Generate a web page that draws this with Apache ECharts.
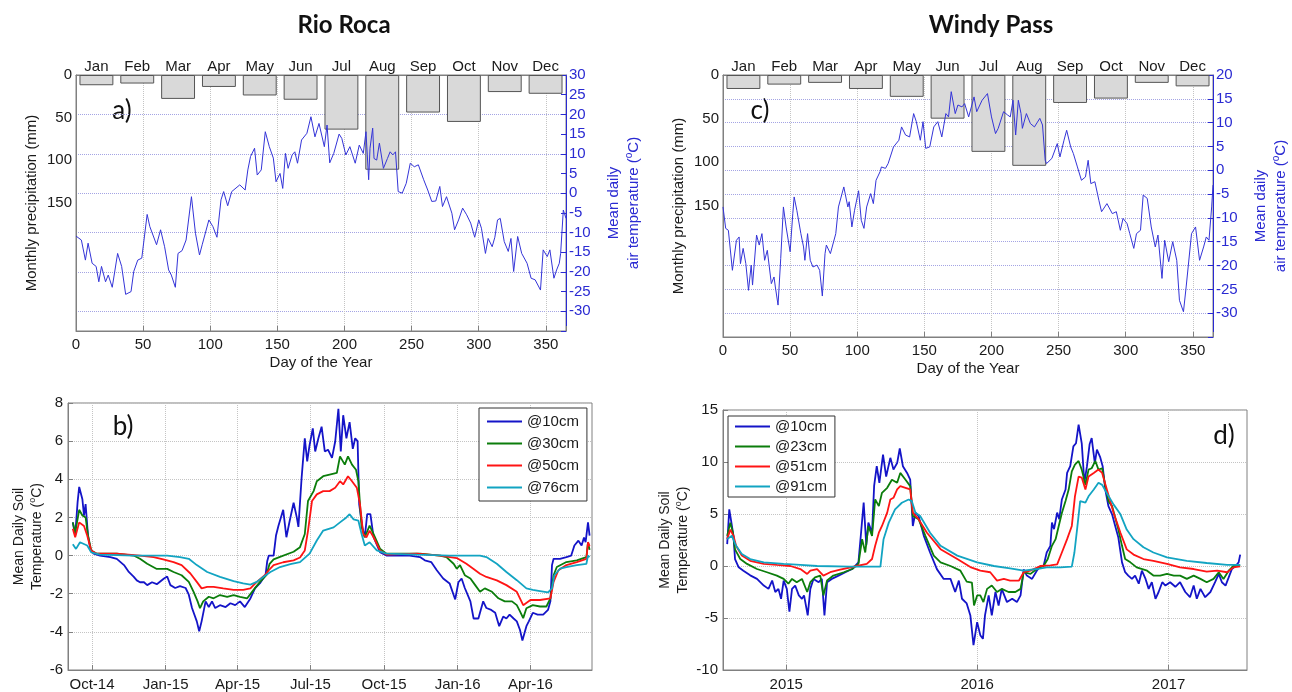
<!DOCTYPE html>
<html>
<head>
<meta charset="utf-8">
<script src="https://cdn.jsdelivr.net/npm/echarts@6/dist/echarts.min.js"></script>
<style>
  html, body { margin: 0; padding: 0; background: #fff; }
  #main { width: 1292px; height: 692px; }
</style>
</head>
<body>
<div id="main"></div>
<script>
// monthly precipitation (mm)
var months = ['Jan','Feb','Mar','Apr','May','Jun','Jul','Aug','Sep','Oct','Nov','Dec'];
var rrPrecip = [12, 10, 28, 14, 24, 29, 64, 111, 44, 55, 20, 22];
var wpPrecip = [16, 11, 9, 16, 25, 50, 88, 104, 32, 27, 9, 13];

// mean daily air temperature [day of year, degC]
var rrAirT = [[0,-10.9],[4,-11.9],[7,-17],[9,-12.7],[12,-17.8],[15,-18.6],[17,-22.5],[19,-18.6],[22,-22.5],[24,-20.8],[27,-23.9],[31,-15.3],[34,-18.6],[37,-25.7],[41,-25],[43,-19.9],[46,-17],[49,-16.5],[53,-5.4],[55,-8.5],[60,-13.1],[63,-9.3],[66,-13.6],[69,-19.5],[71,-20.8],[74,-23.9],[76,-15.3],[79,-14.6],[82,-11.9],[86,-0.9],[89,-10.2],[92,-15.7],[94,-13.1],[99,-6.8],[102,-8.5],[105,-11.2],[108,-1.7],[110,0.4],[113,-3.2],[116,0.4],[122,2.1],[126,0.8],[128,5.9],[130,9.3],[133,11.4],[135,4.6],[138,5.9],[141,15.6],[144,11.8],[147,8.9],[149,2.9],[152,5],[154,1.2],[156,10.1],[158,6.3],[161,9.7],[163,10.5],[165,7.6],[168,13.5],[172,15.2],[175,19.4],[178,14.3],[181,17.7],[185,11.8],[187,17.3],[189,7.7],[192,10.1],[196,15],[198,13.9],[201,9.7],[204,11.8],[208,7.6],[211,12.2],[214,10.1],[216,15.6],[218,3.4],[219,11.4],[221,16.5],[222,8.8],[224,8.4],[226,12.7],[229,6.3],[232,8.8],[234,10.5],[236,9.7],[238,10.5],[240,0.4],[243,0],[246,2.5],[249,7.6],[252,6.7],[255,7.2],[259,3.4],[262,0.8],[265,-2.1],[268,-2],[271,1.7],[273,-3.4],[276,-0.9],[280,-5.1],[282,-9.3],[285,-6.8],[288,-3.8],[291,-5.5],[294,-7.6],[297,-11.2],[300,-6.8],[302,-8.9],[305,-15.3],[307,-11.5],[310,-13.6],[312,-11.2],[314,-6.8],[316,-6.4],[319,-12.3],[322,-14.8],[324,-11.5],[326,-19.9],[329,-11],[332,-15.3],[336,-17.8],[339,-21.6],[342,-22],[346,-24.6],[348,-14.4],[351,-16.1],[353,-14.4],[356,-21.6],[358,-19.5],[360,-17.8],[361,-15.3],[363,-4.3],[365,-6.4]];
var wpAirT = [[0,-7.7],[2,-12.2],[4,-12.6],[7,-21],[10,-14.7],[12,-14],[13,-19.6],[15,-16.4],[17,-19.6],[19,-25.2],[21,-19.9],[22,-24.1],[25,-13.6],[27,-15.7],[29,-13.3],[31,-18.9],[33,-16.8],[36,-23.8],[38,-22.4],[39,-24.5],[41,-28.3],[43,-18.5],[45,-7.7],[47,-11.9],[50,-17.1],[52,-9.1],[53,-5.6],[55,-8.4],[58,-13.3],[60,-16.1],[61,-18.9],[63,-13.3],[65,-18.9],[67,-20.3],[70,-19.9],[72,-21],[74,-26.4],[76,-17.5],[77,-15.7],[80,-17.5],[84,-13.3],[86,-7.7],[90,-3.5],[91,-3.1],[93,-7.7],[94,-6.6],[96,-11.9],[98,-8.4],[101,-4.3],[103,-10.5],[105,-12.2],[107,-7.7],[110,-4.9],[112,-7],[114,-2.1],[117,-0.3],[118,0.7],[121,0.4],[123,1.4],[127,4.9],[131,6.3],[133,9.1],[136,7.4],[139,7],[142,11.9],[144,10.2],[147,6.3],[149,10.2],[151,4.6],[154,4.9],[157,9.1],[160,10.2],[163,7],[166,11.9],[168,11.2],[170,16.5],[173,11.9],[175,13.7],[178,13.3],[180,14],[183,11.2],[187,15.4],[189,12.3],[193,14.7],[197,16.1],[200,11.2],[203,7.7],[205,8.8],[209,12.3],[212,11.6],[214,11.2],[216,14.7],[218,7.4],[220,14.7],[222,11.9],[223,8.8],[226,11.9],[229,9.8],[232,9.1],[236,10.9],[238,9.5],[240,2.1],[241,1.4],[245,2.5],[249,5.6],[251,2.8],[254,6.3],[256,8.4],[259,4.9],[261,3.5],[264,0.7],[267,-2.1],[270,-1.4],[272,2.1],[274,-2.8],[277,-2.4],[280,-6.3],[282,-8.7],[286,-7],[290,-9.1],[293,-8.7],[296,-12.6],[298,-10.1],[301,-11.2],[303,-13.3],[306,-16.4],[308,-13.3],[311,-12.6],[313,-5.2],[316,-5.9],[319,-11.9],[322,-16.1],[324,-13.6],[327,-22.7],[329,-14.7],[332,-19.2],[335,-15],[338,-18.9],[340,-27.3],[343,-29.7],[345,-24.5],[349,-13.3],[352,-11.9],[355,-18.9],[358,-16.1],[360,-14],[362,-14.7],[364,-7.7],[365,-3.1]];

// Rio Roca soil temperature [days since 2014-10-01, degC]
var rrTicks = [0, 92, 182, 273, 365, 457, 548];
var rrTickLabels = ['Oct-14','Jan-15','Apr-15','Jul-15','Oct-15','Jan-16','Apr-16'];
var rr10 = [[-24,1.74],[-21,1.05],[-18,2.8],[-16,3.6],[-12,2.95],[-10,2.1],[-8,2.7],[-5,1.05],[-2,0.35],[2,0.1],[10,0],[23,-0.08],[31,-0.17],[40,-0.5],[46,-0.86],[52,-1.1],[56,-1.3],[60,-1.4],[65,-1.4],[69,-1.55],[75,-1.4],[81,-1.5],[90,-1.2],[94,-1.1],[98,-1.55],[104,-1.7],[110,-1.6],[117,-1.7],[121,-2.05],[125,-2.75],[131,-3.45],[134,-3.97],[137,-3.45],[142,-2.4],[146,-2.7],[150,-2.4],[154,-2.75],[160,-2.6],[167,-2.7],[173,-2.5],[179,-2.6],[185,-2.4],[191,-2.7],[198,-2.25],[204,-1.7],[210,-1.45],[217,-1],[219,-0.3],[221,0],[227,0],[230,1.05],[233,1.55],[235,1.65],[239,2.4],[243,0.96],[247,1.8],[252,2.77],[256,2.0],[258,1.5],[262,4.07],[266,6.15],[269,4.94],[272,5.8],[276,6.67],[279,5.46],[283,6.15],[287,6.76],[291,5.46],[295,5.55],[300,5.12],[304,5.98],[308,7.7],[311,5.46],[314,7.36],[318,6.15],[322,7.0],[326,5.6],[329,6.15],[332,6.0],[334,2.69],[338,1.48],[341,0.96],[344,2.17],[348,2.17],[352,0.96],[360,0.18],[368,0],[377,0],[397,0],[410,-0.08],[416,-0.25],[424,-0.34],[431,-0.77],[439,-1.2],[447,-1.46],[454,-2.3],[458,-1.4],[462,-1.2],[466,-1.7],[473,-2.4],[477,-3.3],[483,-3.3],[489,-2.4],[493,-2.75],[499,-2.85],[504,-3.0],[509,-3.7],[514,-3.2],[518,-3.3],[522,-3.1],[527,-3.3],[531,-3.45],[535,-3.9],[538,-4.45],[543,-3.7],[546,-3.45],[551,-3.0],[557,-3.1],[564,-3.1],[570,-2.85],[573,-2.4],[575,-0.5],[577,-0.17],[585,-0.17],[593,-0.08],[599,0],[603,0.53],[608,0.78],[612,0.53],[615,0.95],[617,0.7],[620,1.74],[622,1.05]];
var rr30 = [[-24,1.74],[-21,1.2],[-16,2.4],[-12,2.1],[-8,2.0],[-5,1.05],[-1,0.27],[6,0.1],[31,0.1],[52,0],[60,-0.17],[69,-0.43],[81,-0.7],[94,-0.7],[102,-0.86],[112,-1.03],[121,-1.38],[127,-1.9],[132,-2.4],[135,-2.76],[139,-2.4],[146,-2.16],[152,-2.24],[160,-2.07],[169,-2.16],[177,-2.07],[185,-2.16],[194,-2.24],[202,-1.8],[210,-1.38],[218,-1.03],[222,-0.43],[227,-0.2],[235,-0.07],[252,0.2],[260,0.44],[266,1.13],[270,2.86],[277,3.38],[281,3.9],[289,4.16],[297,4.25],[306,4.33],[310,5.2],[316,4.77],[320,5.2],[325,4.77],[330,4.5],[333,3.9],[337,1.48],[341,0.96],[347,1.57],[352,1.13],[360,0.36],[368,0.1],[377,0.1],[410,0.1],[435,0],[443,-0.08],[452,-0.43],[456,-0.69],[460,-0.5],[466,-1.03],[473,-1.2],[479,-1.55],[485,-1.9],[491,-1.72],[500,-1.9],[508,-2.24],[516,-2.4],[525,-2.4],[531,-2.6],[535,-2.93],[539,-3.28],[543,-2.76],[551,-2.6],[560,-2.67],[568,-2.67],[573,-2.24],[577,-1.03],[581,-0.6],[593,-0.34],[606,-0.25],[618,-0.08],[620,0.7],[622,0.3]];
var rr50 = [[-24,1.4],[-21,0.96],[-16,1.74],[-10,1.55],[-6,1.05],[-1,0.27],[6,0.1],[31,0.1],[60,0],[77,-0.08],[89,-0.2],[102,-0.34],[112,-0.5],[123,-0.94],[131,-1.38],[137,-1.72],[144,-1.64],[152,-1.64],[164,-1.72],[177,-1.8],[189,-1.8],[198,-1.72],[206,-1.38],[216,-1.03],[221,-0.77],[227,-0.5],[239,-0.35],[252,-0.25],[260,-0.1],[266,0.27],[270,1.3],[275,2.86],[281,3.21],[289,3.38],[297,3.38],[304,3.56],[310,3.9],[314,3.73],[320,4.16],[325,3.9],[331,3.56],[335,2.69],[339,1.13],[343,0.96],[347,1.31],[352,0.96],[360,0.27],[368,0.05],[406,0.1],[435,0],[456,-0.13],[468,-0.43],[477,-0.7],[485,-0.95],[493,-1.12],[506,-1.3],[518,-1.55],[531,-1.9],[539,-2.6],[548,-2.33],[560,-2.33],[573,-2.24],[577,-1.38],[583,-0.77],[593,-0.5],[606,-0.34],[618,-0.17],[620,0.7],[622,0.5]];
var rr76 = [[-24,0.6],[-20,0.35],[-15,0.7],[-6,0.53],[-1,0.17],[10,0.05],[52,0],[94,0],[110,-0.08],[121,-0.17],[131,-0.5],[144,-0.86],[160,-1.12],[177,-1.34],[189,-1.46],[198,-1.52],[206,-1.38],[214,-1.12],[223,-0.86],[235,-0.6],[248,-0.45],[260,-0.34],[272,0.1],[281,0.79],[289,1.31],[302,1.48],[310,1.74],[318,2.0],[322,2.17],[327,1.9],[333,1.83],[337,1.13],[341,0.53],[347,0.7],[356,0.27],[368,0.1],[406,0.05],[447,0],[485,0],[493,-0.08],[506,-0.43],[518,-0.86],[531,-1.29],[543,-1.72],[551,-1.8],[560,-1.86],[570,-1.93],[575,-1.72],[578,-1.03],[585,-0.69],[593,-0.6],[606,-0.5],[618,-0.43],[620,0],[622,-0.08]];

// Windy Pass soil temperature [days since 2015-01-01, degC]
var wpTicks = [0, 365, 731];
var wpTickLabels = ['2015','2016','2017'];
var wp10 = [[-113,2.1],[-109,5.45],[-105,4.2],[-101,2.9],[-98,0.67],[-91,-0.13],[-82,-0.45],[-69,-0.9],[-56,-1.24],[-43,-1.88],[-34,-2.2],[-27,-1.4],[-21,-2.5],[-15,-2.2],[-10,-3.15],[-5,-1.4],[1,-2.2],[6,-4.4],[11,-2.2],[17,-1.88],[24,-2.83],[30,-3.15],[34,-2.83],[41,-4.75],[46,-2.2],[52,-1.24],[62,-1.56],[68,-1.24],[73,-4.75],[78,-1.56],[87,-1.24],[100,-0.92],[113,-0.6],[126,-0.29],[138,0.35],[143,3.2],[148,6.1],[153,2.0],[157,4.17],[164,3.2],[168,7.7],[173,9.6],[178,8.0],[185,10.7],[191,8.6],[199,10.4],[205,9.27],[212,9.9],[217,11.3],[223,9.6],[231,8.95],[237,8.3],[242,3.85],[247,5.13],[253,4.8],[263,2.9],[275,1.3],[288,-0.3],[301,-1.24],[314,-1.24],[323,-2.5],[330,-1.4],[336,-3.15],[345,-3.6],[352,-4.75],[358,-7.6],[365,-5.4],[371,-6.65],[376,-7],[380,-4.75],[387,-2.83],[393,-4.75],[400,-2.5],[406,-3.8],[412,-2.2],[422,-3.47],[432,-3.15],[441,-3.47],[448,-2.83],[454,-0.32],[460,-0.92],[470,-1.24],[479,-0.45],[486,0],[492,0],[498,1.3],[505,1.94],[508,4.17],[512,3.54],[518,5.13],[522,4.5],[527,6.4],[534,7.35],[537,8.95],[543,9.6],[549,11.5],[554,11.8],[559,13.6],[565,11.8],[570,8],[575,9.6],[580,11.7],[584,12.3],[590,9.9],[594,11.2],[600,10.5],[605,9.6],[610,7.35],[616,5.76],[623,4.97],[629,3.85],[635,2.74],[642,0.35],[648,-0.6],[654,-0.92],[661,-1.24],[667,-0.92],[674,-1.7],[680,-0.45],[687,-1.24],[693,-2.2],[699,-1.56],[706,-3.15],[712,-2.5],[719,-1.56],[725,-1.88],[734,-1.56],[744,-2.0],[753,-1.56],[763,-2.5],[772,-3.0],[779,-1.88],[785,-3.15],[792,-2.2],[801,-3.0],[811,-2.5],[820,-1.56],[827,-0.76],[833,-1.56],[840,-1.88],[846,-1.1],[852,-0.3],[859,0],[865,0.35],[868,1.1]];
var wp23 = [[-113,2.9],[-107,4.17],[-102,3.2],[-98,1.6],[-88,0.67],[-75,0.2],[-56,-0.29],[-37,-0.6],[-18,-0.92],[-5,-1.24],[4,-1.7],[11,-1.24],[20,-1.56],[30,-1.24],[40,-2.5],[46,-1.56],[55,-1.1],[65,-0.92],[71,-2.83],[78,-1.4],[90,-0.92],[110,-0.6],[126,-0.29],[138,0.2],[145,2.58],[151,1.3],[157,3.85],[164,2.9],[170,6.4],[177,5.76],[183,7.04],[193,7.52],[202,8.3],[212,8.0],[218,8.95],[228,8.3],[237,7.68],[242,4.8],[253,4.5],[266,2.9],[282,1.0],[295,0.35],[314,0],[333,-0.45],[345,-1.5],[355,-1.6],[359,-3.8],[365,-2.83],[371,-2.83],[377,-3.47],[384,-2.2],[393,-1.88],[403,-2.5],[412,-2.2],[425,-2.5],[438,-2.5],[448,-2.2],[454,-0.6],[467,-0.76],[479,-0.29],[492,0],[500,0.67],[508,1.94],[515,2.58],[521,3.85],[527,5.1],[534,6.24],[540,7.35],[546,9.1],[552,9.75],[559,10.1],[565,9.27],[572,7.8],[578,9.27],[584,9.4],[591,10.1],[597,9.27],[604,9.4],[610,7.7],[616,6.24],[623,5.76],[629,4.65],[635,3.5],[642,1.94],[648,0.67],[658,0.35],[670,-0.13],[690,-0.45],[702,-0.92],[715,-0.92],[728,-0.76],[741,-0.92],[753,-0.92],[766,-1.24],[779,-0.92],[792,-1.24],[804,-1.56],[817,-1.24],[827,-0.6],[836,-1.24],[846,-0.45],[855,0],[868,0.06]];
var wp51 = [[-113,2.6],[-107,3.5],[-101,2.9],[-96,1.94],[-85,1.0],[-69,0.5],[-43,0.2],[-18,0.1],[8,0],[27,-0.29],[40,-0.76],[46,-0.45],[59,-0.29],[71,-0.92],[84,-0.6],[103,-0.35],[135,0],[154,0.2],[164,0.67],[170,1.94],[177,3.2],[183,3.85],[193,5.13],[199,6.4],[205,6.56],[212,7.36],[218,7.68],[228,7.52],[237,7.36],[242,5.13],[253,4.5],[269,3.2],[295,1.62],[327,0.67],[352,-0.1],[371,-0.45],[390,-0.6],[403,-1.4],[416,-1.24],[428,-1.4],[445,-1.4],[454,-0.6],[467,-0.45],[486,0],[505,0.06],[518,0.16],[527,1.3],[537,2.58],[546,3.85],[552,6.7],[559,8.6],[565,8.5],[572,7.35],[578,8.6],[588,8.95],[597,9.27],[604,8.95],[613,7.35],[626,5.1],[639,3.2],[651,1.6],[664,1.1],[683,0.67],[702,0.5],[728,0.2],[753,-0.13],[779,-0.29],[804,-0.54],[824,-0.45],[843,-0.6],[855,-0.13],[868,-0.03]];
var wp91 = [[-113,2.6],[-104,2.9],[-96,1.94],[-85,1.15],[-69,0.67],[-43,0.35],[-5,0.2],[27,0.1],[59,0],[122,-0.06],[180,-0.06],[186,2.58],[196,4.17],[208,5.45],[221,6.08],[234,6.4],[240,6.24],[247,5.13],[256,4.8],[275,3.2],[295,1.94],[327,1.0],[365,0.35],[397,0],[428,-0.22],[454,-0.45],[479,-0.29],[498,-0.13],[524,-0.13],[546,-0.06],[551,1.3],[556,3.5],[562,6.24],[572,6.1],[578,6.7],[588,7.35],[597,8],[604,7.8],[613,7.0],[626,5.9],[639,4.97],[651,3.5],[664,2.58],[683,1.8],[702,1.3],[728,0.83],[766,0.5],[804,0.29],[843,0.1],[868,0.1]];

var FONT = '"Liberation Sans", Arial, sans-serif';
var TXT = '#1a1a1a';
var GRAY = '#808080';
var TBLUE = '#2a2ad2';
var C10 = '#1414c8', C30 = '#0b7d0b', C50 = '#ff1414', C76 = '#12a4c2';
// legend sample: a 2px bar in the middle of a 35x14 box
var LEG_ICON = 'path://M0,0M0,14M0,6L35,6L35,8L0,8Z';

var myChart = echarts.init(document.getElementById('main'));

function dayAxis(grid) {
	return {
		type: 'value', gridIndex: grid, position: 'bottom', min: 0, max: 365, interval: 50,
		name: 'Day of the Year', nameLocation: 'middle', nameGap: 24,
		nameTextStyle: { fontSize: 15, color: TXT, fontFamily: FONT },
		axisLine: { onZero: false, lineStyle: { color: GRAY } },
		axisTick: { inside: true, length: 5, lineStyle: { color: GRAY } },
		axisLabel: { fontSize: 15, color: TXT, fontFamily: FONT, margin: 6,
			formatter: function (v) { return v % 50 === 0 ? v : ''; } },
		splitLine: { show: true, lineStyle: { color: '#c4c4c4', type: 'dotted' } }
	};
}
function monthAxis(grid) {
	return {
		type: 'category', gridIndex: grid, position: 'top', data: months, boundaryGap: true,
		axisLine: { onZero: false, lineStyle: { color: GRAY } }, axisTick: { show: false },
		axisLabel: { fontSize: 15, color: TXT, fontFamily: FONT, margin: 1, interval: 0 },
		splitLine: { show: false }
	};
}
function precipAxis(grid) {
	return {
		type: 'value', gridIndex: grid, position: 'left', inverse: true, min: 0, max: 300, interval: 50,
		name: 'Monthly precipitation (mm)', nameLocation: 'middle', nameGap: 37, nameRotate: 90,
		nameTextStyle: { fontSize: 15, color: TXT, fontFamily: FONT },
		axisLine: { show: true, onZero: false, lineStyle: { color: GRAY } }, axisTick: { show: false },
		axisLabel: { fontSize: 15, color: TXT, fontFamily: FONT, margin: 4,
			formatter: function (v) { return v <= 150 ? v : ''; } },
		splitLine: { show: false }
	};
}
function tempAxis(grid, top, gridColors) {
	return {
		type: 'value', gridIndex: grid, position: 'right', min: -35, max: top, interval: 5,
		name: 'Mean daily\nair temperature ({sup|o}C)', nameLocation: 'middle', nameGap: 38, nameRotate: 90,
		nameTextStyle: { fontSize: 15, color: TBLUE, fontFamily: FONT, lineHeight: 20,
			rich: { sup: { fontSize: 10, color: TBLUE, fontFamily: FONT, verticalAlign: 'top', lineHeight: 14 } } },
		axisLine: { show: true, onZero: false, lineStyle: { color: TBLUE } },
		axisTick: { inside: true, length: 5, lineStyle: { color: TBLUE } },
		axisLabel: { fontSize: 15, color: TBLUE, fontFamily: FONT, margin: 3,
			formatter: function (v) { return v === -35 ? '' : v; } },
		splitLine: { show: true, lineStyle: { color: gridColors, type: 'dotted' } }
	};
}
function dateAxis(grid, min, max, ticks, labels) {
	return {
		type: 'value', gridIndex: grid, position: 'bottom', min: min, max: max,
		axisLine: { onZero: false, lineStyle: { color: GRAY } },
		axisTick: { inside: true, length: 5, customValues: ticks, lineStyle: { color: GRAY } },
		axisLabel: { customValues: ticks, fontSize: 15, color: TXT, fontFamily: FONT, margin: 7,
			formatter: function (v) { return labels[ticks.indexOf(v)]; } },
		splitLine: { show: true, lineStyle: { color: '#c4c4c4', type: 'dotted' } }
	};
}
function soilAxis(grid, min, max, interval, gap) {
	return {
		type: 'value', gridIndex: grid, position: 'left', min: min, max: max, interval: interval,
		name: 'Mean Daily Soil\nTemperature ({sup|o}C)', nameLocation: 'middle', nameGap: gap, nameRotate: 90,
		nameTextStyle: { fontSize: 14, color: TXT, fontFamily: FONT, lineHeight: 18,
			rich: { sup: { fontSize: 9, color: TXT, fontFamily: FONT, verticalAlign: 'top', lineHeight: 12 } } },
		axisLine: { onZero: false, lineStyle: { color: GRAY } },
		axisTick: { inside: true, length: 5, lineStyle: { color: GRAY } },
		axisLabel: { fontSize: 15, color: TXT, fontFamily: FONT, margin: 5 },
		splitLine: { show: true, lineStyle: { color: '#c4c4c4', type: 'dotted' } }
	};
}
function soilLine(name, data, color, xi, yi) {
	return {
		name: name, type: 'line', xAxisIndex: xi, yAxisIndex: yi, data: data,
		symbol: 'none', showSymbol: false, lineStyle: { color: color, width: 1.8 }, itemStyle: { color: color }
	};
}
function legendBox(names, left, top, gap, pad) {
	return {
		data: names, orient: 'vertical', left: left, top: top, icon: LEG_ICON,
		itemWidth: 35, itemHeight: 14, itemGap: gap,
		padding: pad, borderColor: '#333', borderWidth: 1, borderRadius: 0, backgroundColor: '#fff',
		selectedMode: false, textStyle: { fontSize: 15, color: TXT, fontFamily: FONT }
	};
}
function label(text, x, y, font) {
	return { type: 'text', x: x, y: y, silent: true,
		style: { text: text, font: font, fill: '#111', align: 'center', verticalAlign: 'middle' } };
}

var barStyle = { color: '#d9d9d9', borderColor: '#555', borderWidth: 1 };

var option = {
	backgroundColor: '#fff',
	animation: false,
	grid: [
		{ left: 76, top: 75, width: 490, height: 256, show: true, borderColor: GRAY, borderWidth: 1 },
		{ left: 723, top: 75, width: 492, height: 262, show: true, borderColor: GRAY, borderWidth: 1 },
		{ left: 68, top: 403, width: 524, height: 269, show: true, borderColor: GRAY, borderWidth: 1 },
		{ left: 723, top: 410, width: 524, height: 262, show: true, borderColor: GRAY, borderWidth: 1 }
	],
	xAxis: [
		dayAxis(0), monthAxis(0), dayAxis(1), monthAxis(1),
		dateAxis(2, -30, 625, rrTicks, rrTickLabels),
		dateAxis(3, -121, 881, wpTicks, wpTickLabels)
	],
	yAxis: [
		precipAxis(0), tempAxis(0, 30, ['rgba(0,0,0,0)', '#a4a4e4']),
		precipAxis(1), tempAxis(1, 20, '#a4a4e4'),
		soilAxis(2, -6, 8, 2, 22),
		soilAxis(3, -10, 15, 5, 31)
	],
	legend: [
		legendBox(['@10cm', '@30cm', '@50cm', '@76cm'], 479, 408, 7, [6, 8, 6, 8]),
		legendBox(['@10cm', '@23cm', '@51cm', '@91cm'], 728, 416, 5, [3, 8, 3, 7])
	],
	graphic: [
		label('Rio Roca', 344, 25, 'bold 24px Lato'),
		label('Windy Pass', 991, 25, 'bold 24px Lato'),
		label('a)', 122, 111, '26px Lato'),
		label('b)', 123, 427, '26px Lato'),
		label('c)', 760, 111, '26px Lato'),
		label('d)', 1224, 436, '26px Lato')
	],
	series: [
		{ name: 'rrPrecip', type: 'bar', xAxisIndex: 1, yAxisIndex: 0, data: rrPrecip, barWidth: '83%', itemStyle: barStyle, silent: true },
		{ name: 'rrAirT', type: 'line', xAxisIndex: 0, yAxisIndex: 1, data: rrAirT, symbol: 'none', showSymbol: false,
			lineStyle: { color: '#3434d8', width: 1 }, z: 3 },
		{ name: 'wpPrecip', type: 'bar', xAxisIndex: 3, yAxisIndex: 2, data: wpPrecip, barWidth: '83%', itemStyle: barStyle, silent: true },
		{ name: 'wpAirT', type: 'line', xAxisIndex: 2, yAxisIndex: 3, data: wpAirT, symbol: 'none', showSymbol: false,
			lineStyle: { color: '#3434d8', width: 1 }, z: 3 },
		soilLine('@10cm', rr10, C10, 4, 4),
		soilLine('@30cm', rr30, C30, 4, 4),
		soilLine('@50cm', rr50, C50, 4, 4),
		soilLine('@76cm', rr76, C76, 4, 4),
		soilLine('@10cm', wp10, C10, 5, 5),
		soilLine('@23cm', wp23, C30, 5, 5),
		soilLine('@51cm', wp51, C50, 5, 5),
		soilLine('@91cm', wp91, C76, 5, 5)
	]
};

myChart.setOption(option);
</script>
</body>
</html>
